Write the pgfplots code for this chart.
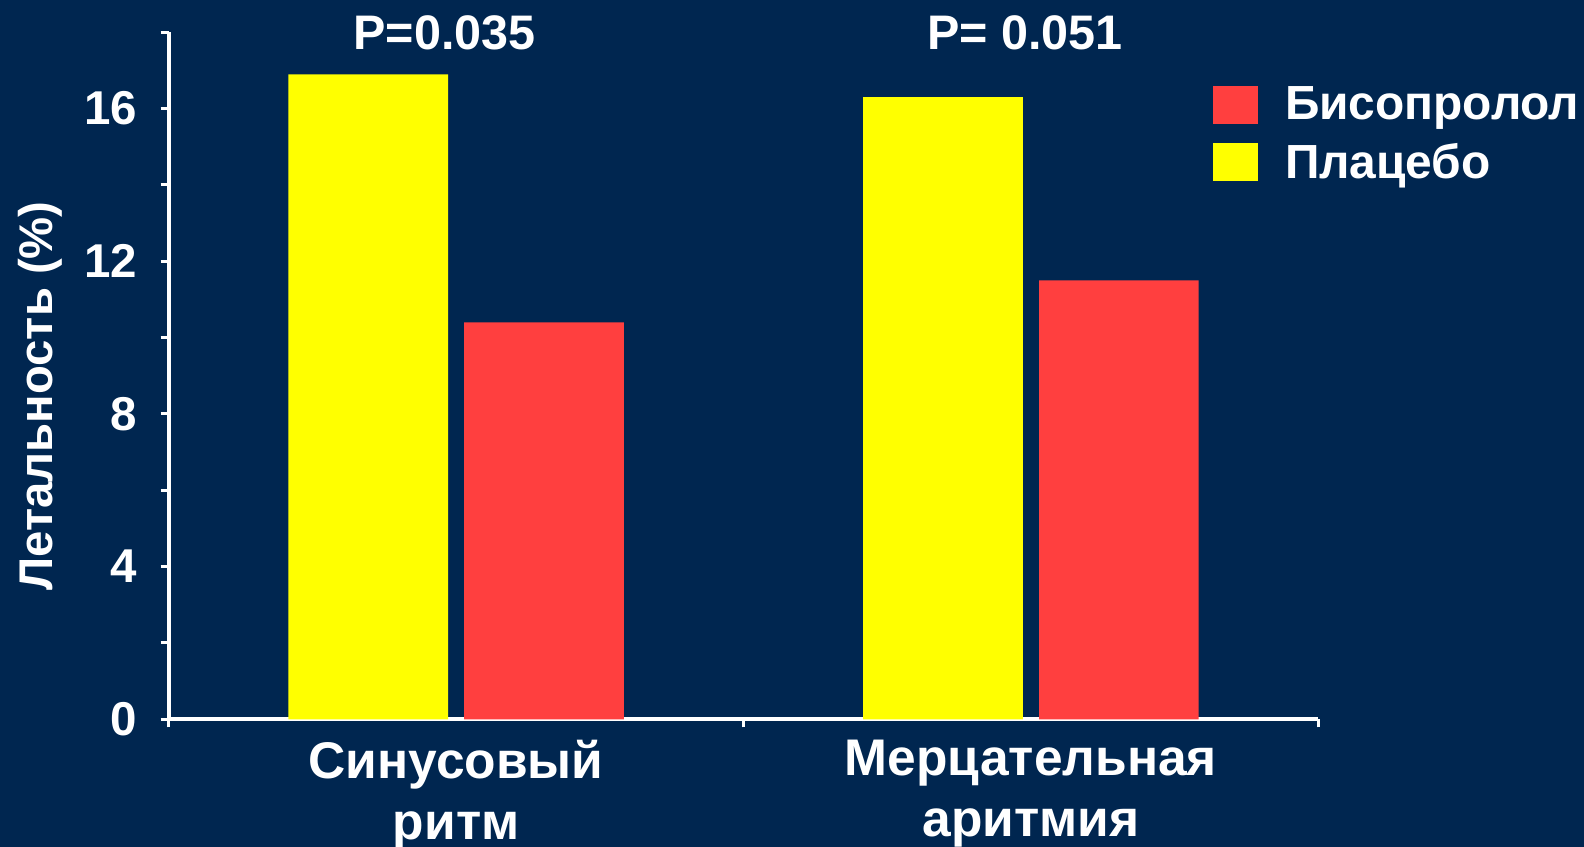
\documentclass[border=0pt]{standalone}
\usepackage{pgfplots}
\pgfplotsset{compat=1.18}
\usepackage{fontspec}
\setmainfont{Liberation Sans}
\definecolor{bg}{HTML}{002650}
\definecolor{barred}{HTML}{FF3F3F}
\definecolor{baryellow}{HTML}{FFFF00}
\begin{document}
\begin{tikzpicture}
\fill[bg,use as bounding box] (-83.5pt,-63pt) rectangle (700.5pt,356pt);
\begin{axis}[
  scale only axis,
  width=569pt, height=340pt,
  xmin=0.5, xmax=2.5, ymin=0, ymax=18,
  axis x line*=bottom, axis y line*=left,
  axis line style={white, line width=2pt},
  tick style={white, line width=1.5pt},
  tick align=outside,
  major tick length=4pt, minor tick length=4pt,
  ytick={0,4,8,12,16}, minor ytick={2,6,10,14,18},
  xtick={1,2}, minor xtick={0.5,1.5,2.5},
  every major x tick/.style={draw=none},
  xticklabels={{Синусовый\\ритм},{Мерцательная\\аритмия}},
  xticklabel style={align=center, font=\fontsize{25.5}{30}\selectfont\bfseries, text=white, yshift=-3pt},
  yticklabel style={font=\fontsize{23.5}{27}\selectfont\bfseries, text=white, xshift=-8pt},
  /pgf/number format/assume math mode=true,
  ylabel={Летальность (\%)},
  every axis y label/.style={at={(axis description cs:-0.1116,0.4706)}, rotate=90, anchor=center, font=\fontsize{23.4}{28}\selectfont\bfseries, text=white},
  clip=false,
  ybar, bar width=79pt,
  legend cell align=left,
  reverse legend,
  legend style={at={(axis description cs:0.903,0.933)}, anchor=north west, draw=none, fill=none,
    font=\fontsize{23.7}{28}\selectfont\bfseries, text=white, row sep=6pt,
    nodes={inner sep=2pt}},
]
\addplot[fill=baryellow, draw=none, bar shift=-43.5pt,
  legend image code/.code={\fill[baryellow] (0pt,-9.5pt) rectangle (22pt,9.5pt);}]
  coordinates {(1,16.9) (2,16.3)};
\addlegendentry{\hspace{11.5pt}Плацебо}
\addplot[fill=barred, draw=none, bar shift=43.5pt,
  legend image code/.code={\fill[barred] (0pt,-9.5pt) rectangle (22pt,9.5pt);}]
  coordinates {(1,10.4) (2,11.5)};
\addlegendentry{\hspace{11.5pt}Бисопролол}
\node[anchor=base, text=white, font=\fontsize{24}{28}\selectfont\bfseries] at (axis cs:0.98,17.56) {P=0.035};
\node[anchor=base, text=white, font=\fontsize{24}{28}\selectfont\bfseries] at (axis cs:1.99,17.56) {P= 0.051};
\end{axis}
\end{tikzpicture}
\end{document}
